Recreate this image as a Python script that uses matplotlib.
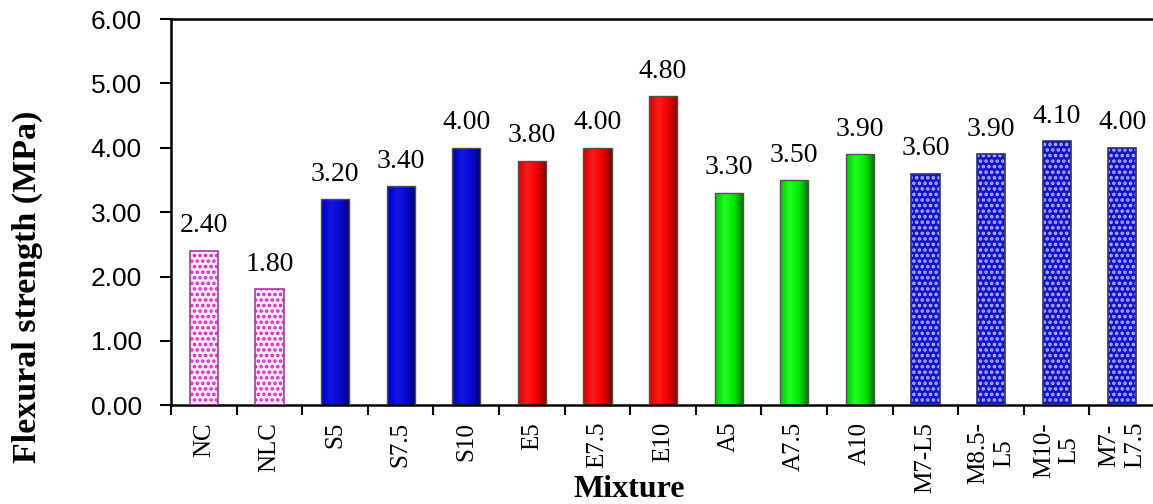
import matplotlib
matplotlib.use('Agg')
import matplotlib.pyplot as plt
import numpy as np
from matplotlib.colors import LinearSegmentedColormap

# data
mixtures = ['NC', 'NLC', 'S5', 'S7.5', 'S10', 'E5', 'E7.5', 'E10', 'A5', 'A7.5',
            'A10', 'M7-L5', 'M8.5-\nL5', 'M10-\nL5', 'M7-\nL7.5']
strength = [2.40, 1.80, 3.20, 3.40, 4.00, 3.80, 4.00, 4.80, 3.30, 3.50,
            3.90, 3.60, 3.90, 4.10, 4.00]
groups = ['ref', 'ref', 'S', 'S', 'S', 'E', 'E', 'E', 'A', 'A', 'A', 'M', 'M', 'M', 'M']

plt.rcParams['hatch.linewidth'] = 1.7

fig = plt.figure(figsize=(11.53, 5.04), dpi=100)
ax = fig.add_axes([0.1483, 0.196, 0.8535, 0.766])

x = np.arange(len(mixtures))
w = 0.43

# colour ramps across each solid bar (light left-centre, dark right)
ramps = {
    'S': ['#0000b8', '#1414e6', '#0a0ad0', '#000070'],
    'E': ['#d80000', '#ff1a1a', '#f00000', '#800000'],
    'A': ['#00c800', '#20ff20', '#00e600', '#007000'],
}

grad = np.linspace(0, 1, 64).reshape(1, -1)
for xi, v, g in zip(x, strength, groups):
    if g == 'ref':
        ax.bar(xi, v, w, facecolor='#fbe6fb', edgecolor='#d028c0', hatch='...',
               linewidth=0, zorder=2)
        ax.bar(xi, v, w, facecolor='none', edgecolor='#a0409a', linewidth=1.2, zorder=3)
    elif g == 'M':
        ax.bar(xi, v, w, facecolor='#1414c8', edgecolor='#b4b4ff', hatch='...',
               linewidth=0, zorder=2)
        ax.bar(xi, v, w, facecolor='none', edgecolor='#303070', linewidth=1.2, zorder=3)
    else:
        b = ax.bar(xi, v, w, facecolor=ramps[g][1], edgecolor='none', zorder=2)[0]
        cm = LinearSegmentedColormap.from_list(g, ramps[g])
        im = ax.imshow(grad, extent=[xi - w / 2, xi + w / 2, 0, v], aspect='auto',
                       cmap=cm, zorder=2.5, interpolation='bilinear')
        im.set_clip_path(b)
        ax.bar(xi, v, w, facecolor='none', edgecolor='#505050', linewidth=1.0, zorder=3)
    ax.annotate('%.2f' % v, (xi, v), xytext=(0, 9), textcoords='offset points',
                ha='center', va='bottom', fontsize=20, family='Liberation Serif')

ax.set_xlim(-0.5, len(mixtures) - 0.5)
ax.set_ylim(0, 6)
ax.set_yticks(np.arange(0, 6.01, 1))
ax.set_yticklabels(['%.2f' % t for t in np.arange(0, 6.01, 1)],
                   fontsize=19, family='Liberation Sans')

ax.set_xticks(x)
ax.set_xticklabels(mixtures, rotation=90, fontsize=18, family='Liberation Serif',
                   multialignment='center')
ax.set_xticks(np.arange(-0.5, len(mixtures), 1), minor=True)
ax.tick_params(axis='x', which='major', length=0, pad=12)
ax.tick_params(axis='x', which='minor', length=7, width=1.5, direction='out')
ax.tick_params(axis='y', length=8, width=1.5, direction='out', pad=13)

for s in ['left', 'bottom', 'top']:
    ax.spines[s].set_linewidth(1.8)
ax.spines['right'].set_visible(False)

fig.text(0.024, 0.43, 'Flexural strength (MPa)', rotation=90, ha='center', va='center',
         fontsize=24.5, fontweight='bold', family='Liberation Serif')
fig.text(0.546, 0.028, 'Mixture', ha='center', va='center',
         fontsize=23, fontweight='bold', family='Liberation Serif')

plt.savefig('out.png', dpi=100)
